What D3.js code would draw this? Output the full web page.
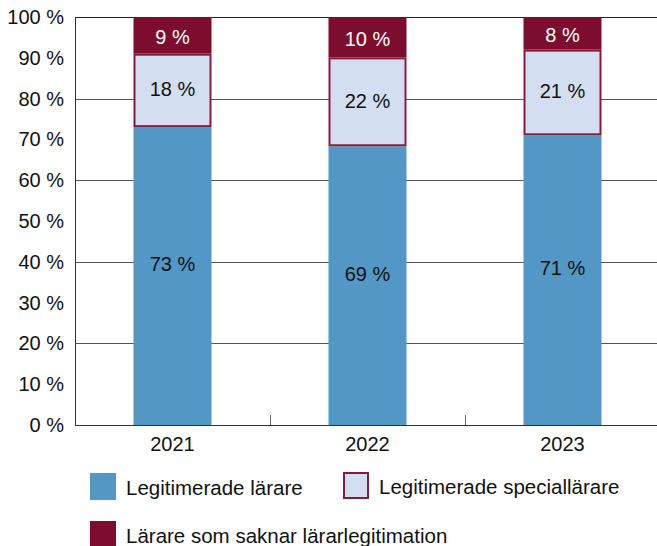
<!DOCTYPE html>
<html>
<head>
<meta charset="utf-8">
<script src="https://cdn.jsdelivr.net/npm/d3@7"></script>
<style>
  body { margin: 0; background: #fff; }
  text { font-family: "Liberation Sans", Arial, sans-serif; fill: #111; }
</style>
</head>
<body>
<div id="chart"></div>
<script>
// data
var years = ["2021", "2022", "2023"];
var legitimerade = [73, 69, 71];
var special = [18, 22, 21];
var saknar = [9, 10, 8];
var yTicks = [0, 10, 20, 30, 40, 50, 60, 70, 80, 90, 100];
var gridTicks = [20, 40, 60, 80, 100];
var seriesNames = ["Legitimerade lärare", "Legitimerade speciallärare", "Lärare som saknar lärarlegitimation"];

var keys = ["legit", "special", "saknar"];
var colors = { legit: "#5297c6", special: "#d3dff0", saknar: "#7d0d2f" };

var W = 657, H = 546;
var margin = { top: 17, right: -3, bottom: 121, left: 75 },
    width = W - margin.left - margin.right,
    height = H - margin.top - margin.bottom;

var svg = d3.select("#chart")
    .append("svg")
    .attr("width", W)
    .attr("height", H)
    .append("g")
    .attr("transform", "translate(" + margin.left + "," + margin.top + ")");

var rows = years.map(function (y, i) {
    return { year: y, legit: legitimerade[i], special: special[i], saknar: saknar[i] };
});

var stacked = d3.stack().keys(keys).offset(d3.stackOffsetExpand)(rows);

var x = d3.scaleBand().domain(years).range([0, width]).padding(0);
var barW = x.bandwidth() * 0.4;
var y = d3.scaleLinear().domain([0, 1]).range([height, 0]);

// grid lines
svg.append("g").selectAll("line")
    .data(gridTicks)
    .enter().append("line")
    .attr("x1", 0).attr("x2", width)
    .attr("y1", function (d) { return Math.round(y(d / 100)) + 0.5; })
    .attr("y2", function (d) { return Math.round(y(d / 100)) + 0.5; })
    .attr("stroke", function (d) { return d == 100 ? "#222" : "#555"; })
    .attr("stroke-width", 1);

// bars
var layer = svg.append("g").selectAll("g")
    .data(stacked)
    .enter().append("g");

layer.selectAll("rect")
    .data(function (d) { return d.map(function (v) { v.key = d.key; return v; }); })
    .enter().append("rect")
    .attr("x", function (d) { return x(d.data.year) + (x.bandwidth() - barW) / 2 + (d.key == "special" ? 1 : 0); })
    .attr("y", function (d) { return y(d[1]) + (d.key == "special" ? 1 : 0); })
    .attr("width", function (d) { return barW - (d.key == "special" ? 2 : 0); })
    .attr("height", function (d) { return y(d[0]) - y(d[1]) - (d.key == "special" ? 2 : 0); })
    .attr("fill", function (d) { return colors[d.key]; })
    .attr("stroke", function (d) { return d.key == "special" ? "#8a1a3c" : "none"; })
    .attr("stroke-width", 2);

// value labels
layer.selectAll("text")
    .data(function (d) { return d.map(function (v) { v.key = d.key; return v; }); })
    .enter().append("text")
    .attr("x", function (d) { return x(d.data.year) + x.bandwidth() / 2; })
    .attr("y", function (d) {
        var mid = (y(d[0]) + y(d[1])) / 2;
        if (d.key == "legit") return mid - 12;
        if (d.key == "saknar") return mid + 2;
        return mid - 1;
    })
    .attr("dy", "0.35em")
    .attr("text-anchor", "middle")
    .style("font-size", "20px")
    .style("fill", function (d) { return d.key == "saknar" ? "#fff" : "#111"; })
    .text(function (d) { return d.data[d.key] + " %"; });

// left axis
svg.append("line")
    .attr("x1", 0.5).attr("x2", 0.5)
    .attr("y1", 0).attr("y2", height)
    .attr("stroke", "#333");

svg.append("g").selectAll("text")
    .data(yTicks)
    .enter().append("text")
    .attr("x", -11)
    .attr("y", function (d) { return y(d / 100); })
    .attr("dy", "0.35em")
    .attr("text-anchor", "end")
    .style("font-size", "20px")
    .text(function (d) { return d + " %"; });

// bottom axis
var xAxis = svg.append("g")
    .attr("transform", "translate(0," + height + ")");
xAxis.append("line")
    .attr("x1", 0).attr("x2", width)
    .attr("y1", 0.5).attr("y2", 0.5)
    .attr("stroke", "#333");
xAxis.selectAll(".tick")
    .data(years.slice(1))
    .enter().append("line")
    .attr("x1", function (d) { return Math.round(x(d)) + 0.5; })
    .attr("x2", function (d) { return Math.round(x(d)) + 0.5; })
    .attr("y1", 0).attr("y2", -10)
    .attr("stroke", "#666");
xAxis.selectAll("text")
    .data(years)
    .enter().append("text")
    .attr("x", function (d) { return x(d) + x.bandwidth() / 2; })
    .attr("y", 26)
    .attr("text-anchor", "middle")
    .style("font-size", "20px")
    .text(function (d) { return d; });

// legend
var legendPos = [
    { x: 90, y: 473 },
    { x: 343, y: 472 },
    { x: 90, y: 521 }
];
var legend = d3.select("svg").append("g");
keys.forEach(function (k, i) {
    var p = legendPos[i];
    legend.append("rect")
        .attr("x", p.x + (k == "special" ? 1 : 0))
        .attr("y", p.y + (k == "special" ? 1 : 0))
        .attr("width", 26 - (k == "special" ? 2 : 0))
        .attr("height", 27 - (k == "special" ? 2 : 0))
        .attr("fill", colors[k])
        .attr("stroke", k == "special" ? "#8a1a3c" : "none")
        .attr("stroke-width", 2);
    legend.append("text")
        .attr("x", p.x + 36)
        .attr("y", p.y + 22)
        .style("font-size", "20.5px")
        .text(seriesNames[i]);
});
</script>
</body>
</html>
